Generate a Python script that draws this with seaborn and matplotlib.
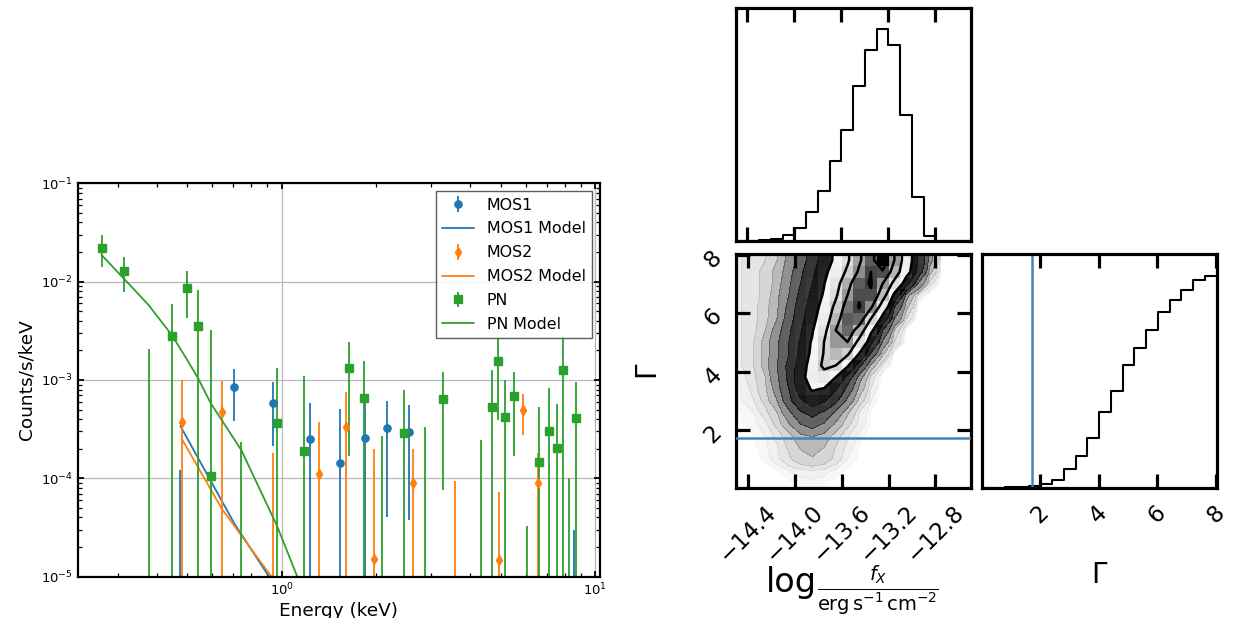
import numpy as np
import pandas as pd
import matplotlib
matplotlib.use("Agg")
import matplotlib.pyplot as plt
import seaborn as sns
from matplotlib.colors import LinearSegmentedColormap

sns.set_style("ticks", rc={"axes.edgecolor": "black", "xtick.color": "black",
                           "ytick.color": "black", "text.color": "black",
                           "axes.labelcolor": "black"})
plt.rcParams["font.family"] = ["DejaVu Sans"]
plt.rcParams["mathtext.fontset"] = "dejavusans"

# ---------------- spectrum data ----------------
pn_energy = [0.266, 0.313, 0.376, 0.446, 0.500, 0.541, 0.594, 0.743, 0.964, 1.175,
             1.640, 1.827, 2.095, 2.452, 2.867, 3.266, 4.317, 4.691, 4.902, 5.160,
             5.513, 6.053, 6.639, 7.114, 7.562, 7.904, 8.243, 8.676]
pn_rate = [0.0220, 0.0128, 0.0, 0.00278, 0.00855, 0.00353, 1.06e-4, 0.0, 3.62e-4, 1.89e-4,
           1.31e-3, 6.59e-4, 0.0, 2.86e-4, 0.0, 6.35e-4, 0.0, 5.30e-4, 1.545e-3, 4.23e-4,
           6.81e-4, 0.0, 1.45e-4, 3.00e-4, 2.04e-4, 1.27e-3, 0.0, 4.09e-4]
pn_err = [0.0078, 0.0049, 0.00205, 0.00309, 0.00428, 0.00469, 0.00311, 2.35e-4, 9.5e-4, 9.15e-4,
          1.14e-3, 8.86e-4, 2.70e-4, 5.02e-4, 3.32e-4, 5.59e-4, 2.45e-4, 7.23e-4, 1.15e-3, 5.74e-4,
          5.13e-4, 3.3e-5, 3.81e-4, 5.34e-4, 3.61e-4, 1.6e-3, 1.02e-4, 5.43e-4]

mos1_energy = [0.475, 0.706, 0.940, 1.231, 1.535, 1.840, 2.173, 2.543, 8.589]
mos1_rate = [0.0, 8.41e-4, 5.82e-4, 2.52e-4, 1.42e-4, 2.55e-4, 3.27e-4, 2.97e-4, 0.0]
mos1_err = [1.21e-4, 4.6e-4, 3.7e-4, 3.26e-4, 3.67e-4, 3.7e-4, 2.87e-4, 2.59e-4, 2.97e-5]

mos2_energy = [0.481, 0.643, 0.936, 1.318, 1.601, 1.966, 2.625, 3.565, 4.927, 5.903, 6.564]
mos2_rate = [3.73e-4, 4.75e-4, 0.0, 1.12e-4, 3.34e-4, 1.53e-5, 8.87e-5, 0.0, 1.47e-5, 4.98e-4, 9.0e-5]
mos2_err = [6.17e-4, 4.93e-4, 1.80e-4, 2.59e-4, 4.25e-4, 1.82e-4, 1.12e-4, 9.35e-5, 5.83e-5, 2.21e-4, 9.3e-5]

pn_model_energy = [0.266, 0.313, 0.376, 0.446, 0.500, 0.541, 0.594, 0.743, 0.964, 1.175]
pn_model = [0.0187, 0.0108, 0.00578, 0.00286, 0.00159, 0.00104, 5.78e-4, 1.94e-4, 3.34e-5, 6.9e-6]
mos1_model_energy = [0.475, 0.706, 0.940]
mos1_model = [3.40e-4, 3.47e-5, 8.6e-6]
mos2_model_energy = [0.481, 0.643, 0.936]
mos2_model = [2.49e-4, 4.94e-5, 9.6e-6]

# ---------------- posterior (corner) data ----------------
flux_edges = [round(-14.5 + 0.1 * i, 2) for i in range(21)]
flux_counts = [0, 0.3, 2, 4, 17, 39, 86, 147, 236, 329, 460, 565, 627, 582, 372, 130, 14, 0, 0, 0]
gamma_edges = [round(0.02 + 0.4 * i, 2) for i in range(21)]
gamma_counts = [0, 0.5, 4, 4, 7, 14, 26, 58, 97, 149, 227, 290, 368, 420, 473, 525, 563, 593, 623, 635]
gamma_true = 1.73

density_rows = [
    [0, 0.01, 0.01, 0.02, 0.04, 0.06, 0.07, 0.05, 0.03, 0.01],
    [0, 0.02, 0.03, 0.05, 0.1, 0.15, 0.18, 0.14, 0.08, 0.04, 0.01],
    [0.02, 0.03, 0.06, 0.15, 0.35, 0.6, 0.75, 0.6, 0.3, 0.1, 0.04],
    [0.02, 0.04, 0.08, 0.18, 0.45, 0.85, 1.0, 0.8, 0.38, 0.15, 0.05],
    [0.03, 0.05, 0.1, 0.25, 0.6, 1.3, 1.6, 1.2, 0.55, 0.22, 0.08, 0.02],
    [0.05, 0.08, 0.15, 0.5, 1.4, 3, 4, 2.8, 1.3, 0.5, 0.15, 0.05],
    [0.05, 0.1, 0.3, 0.8, 2.5, 5.5, 7.5, 5.5, 2.6, 0.9, 0.2, 0.05],
    [0.1, 0.2, 0.5, 1.5, 4.5, 11, 17, 13, 7, 2.5, 0.6, 0.1],
    [0.1, 0.25, 0.7, 2, 6, 16, 28, 25, 13, 4.5, 1.2, 0.2],
    [0.15, 0.3, 0.8, 2.5, 7, 18, 38, 45, 26, 9, 2, 0.3],
    [0.2, 0.4, 1, 3, 7, 16, 35, 68, 60, 28, 7, 1.2, 0.2],
    [0.2, 0.4, 1, 2.5, 6, 14, 30, 62, 78, 65, 25, 5, 0.9],
    [0.2, 0.4, 1, 2.5, 6, 13, 28, 60, 95, 95, 50, 14, 2.5, 0.4],
    [0.2, 0.3, 0.8, 2, 5, 11, 24, 50, 95, 115, 80, 30, 6, 0.7],
    [0.2, 0.3, 0.6, 1.5, 4, 9, 19, 40, 80, 120, 115, 60, 18, 3, 0.4],
    [0.2, 0.3, 0.6, 1.3, 3.5, 8, 16, 34, 68, 110, 130, 100, 42, 6, 1],
    [0.2, 0.3, 0.5, 1.2, 3, 7, 14, 28, 55, 95, 125, 125, 75, 20, 2, 0.2],
    [0.2, 0.3, 0.5, 1, 2.5, 6, 12, 25, 47, 84, 120, 130, 95, 50, 15, 3, 0.3],
    [0.2, 0.3, 0.5, 1, 2, 5, 10, 20, 38, 66, 100, 128, 125, 80, 35, 9, 1],
    [0.2, 0.3, 0.4, 0.8, 1.8, 4, 8, 16, 30, 55, 90, 120, 150, 95, 40, 12, 2],
]

# ---------------- figure ----------------
W, Hpx = 1233, 618
fig = plt.figure(figsize=(W / 100, Hpx / 100), dpi=100)

def rect(x0, y0, x1, y1):
    return [x0 / W, 1 - y1 / Hpx, (x1 - x0) / W, (y1 - y0) / Hpx]

# ---- left: spectrum ----
ax = fig.add_axes(rect(77.7, 183.3, 600, 576.7))
ax.set_xscale("log")
ax.set_yscale("log")
colors = {"MOS1": "#1f77b4", "MOS2": "#ff7f0e", "PN": "#2ca02c"}
series = [
    ("MOS1", mos1_energy, mos1_rate, mos1_err, "o", mos1_model_energy, mos1_model),
    ("MOS2", mos2_energy, mos2_rate, mos2_err, "d", mos2_model_energy, mos2_model),
    ("PN", pn_energy, pn_rate, pn_err, "s", pn_model_energy, pn_model),
]
handles, labels = [], []
for name, e, r, er, mk, me, mv in series:
    c = colors[name]
    cont = ax.errorbar(e, r, yerr=er, fmt=mk, color=c, ms=5.2, elinewidth=1.3,
                       capsize=0, label=name)
    mdf = pd.DataFrame({"E": me, "rate": mv})
    sns.lineplot(data=mdf, x="E", y="rate", ax=ax, color=c, lw=1.3, legend=False, sort=False)
    ln = ax.lines[-1]
    handles += [cont, ln]
    labels += [name, name + " Model"]

ax.set_xlim(0.2233, 10.37)
ax.set_ylim(1e-5, 1e-1)
ax.grid(True, which="major", color="#b8b8b8", lw=0.9)
ax.set_axisbelow(True)
ax.tick_params(which="both", direction="in", top=True, right=True)
ax.tick_params(which="major", length=4.5, width=1.3, labelsize=9.5)
ax.tick_params(which="minor", length=2.8, width=0.9)
for s in ax.spines.values():
    s.set_linewidth(1.6)
ax.set_xlabel("Energy (keV)", fontsize=13.3, labelpad=3)
ax.set_ylabel("Counts/s/keV", fontsize=13.3)
leg = ax.legend(handles, labels, loc="upper right", fontsize=11.4, fancybox=False,
                edgecolor="0.25", framealpha=0.85, labelspacing=0.56)
leg.get_frame().set_linewidth(1.0)

# ---- right: corner plot ----
ax_top = fig.add_axes(rect(735.7, 8.3, 970.7, 240.7))
ax_2d = fig.add_axes(rect(736.0, 254.3, 970.7, 488.3))
ax_g = fig.add_axes(rect(981.7, 254.3, 1216.7, 488.3))

fe = np.array(flux_edges)
ge = np.array(gamma_edges)
fc = 0.5 * (fe[1:] + fe[:-1])
gc = 0.5 * (ge[1:] + ge[:-1])

df_flux = pd.DataFrame({"flux": fc, "n": flux_counts})
df_gam = pd.DataFrame({"gamma": gc, "n": gamma_counts})

sns.histplot(data=df_flux, x="flux", weights="n", bins=flux_edges, element="step",
             fill=False, color="black", lw=1.5, ax=ax_top)
ax_top.set_xlim(fe[0], fe[-1])
ax_top.set_ylim(0, 1.1 * max(flux_counts))

sns.histplot(data=df_gam, x="gamma", weights="n", bins=gamma_edges, element="step",
             fill=False, color="black", lw=1.5, ax=ax_g)
ax_g.set_xlim(ge[0], ge[-1])
ax_g.set_ylim(0, 1.1 * max(gamma_counts))
ax_g.axvline(gamma_true, color="#4682b4", lw=1.8)

# 2D density
Hm = np.zeros((20, 20))
for i, row in enumerate(density_rows):
    Hm[i, :len(row)] = row

# corner-style levels
lev = 1.0 - np.exp(-0.5 * np.array([0.5, 1.0, 1.5, 2.0]) ** 2)
Hflat = np.sort(Hm.flatten())[::-1]
sm = np.cumsum(Hflat)
sm /= sm[-1]
V = np.array([Hflat[sm <= v0][-1] if np.any(sm <= v0) else Hflat[0] for v0 in lev])
V.sort()

H2 = np.zeros((24, 24)) + Hm.min()
H2[2:-2, 2:-2] = Hm
H2[2:-2, 1] = Hm[:, 0]
H2[2:-2, -2] = Hm[:, -1]
H2[1, 2:-2] = Hm[0]
H2[-2, 2:-2] = Hm[-1]
H2[1, 1] = Hm[0, 0]
H2[1, -2] = Hm[0, -1]
H2[-2, 1] = Hm[-1, 0]
H2[-2, -2] = Hm[-1, -1]
dx = fc[1] - fc[0]
dy = gc[1] - gc[0]
X2 = np.concatenate([fc[0] + np.array([-2, -1]) * dx, fc, fc[-1] + np.array([1, 2]) * dx])
Y2 = np.concatenate([gc[0] + np.array([-2, -1]) * dy, gc, gc[-1] + np.array([1, 2]) * dy])

cloud_levels = [0.05, 0.1, 0.2, 0.4, 0.8, 1.5, 3, 6, 12, 1e5]
cloud_alpha = [0.03, 0.06, 0.1, 0.16, 0.27, 0.43, 0.63, 0.83, 0.97]
ax_2d.contourf(X2, Y2, H2, levels=cloud_levels,
               colors=[(0, 0, 0, a) for a in cloud_alpha], zorder=0)
ax_2d.contourf(X2, Y2, H2, [V.min(), Hm.max() * 1.001], colors=["white"], zorder=1)

dens_cmap = LinearSegmentedColormap.from_list("dens", [(1, 1, 1, 0), (0, 0, 0, 1)])
XX, YY = np.meshgrid(fc, gc)
df2 = pd.DataFrame({"flux": XX.ravel(), "gamma": YY.ravel(), "n": Hm.ravel()})
sns.histplot(data=df2, x="flux", y="gamma", weights="n", bins=[flux_edges, gamma_edges],
             cmap=dens_cmap, vmin=0, vmax=Hm.max(), ax=ax_2d, zorder=2)
ax_2d.contour(X2, Y2, H2, V, colors="black", linewidths=1.8, zorder=3)
ax_2d.axhline(gamma_true, color="#4682b4", lw=1.8, zorder=4)
ax_2d.set_xlim(fe[0], fe[-1])
ax_2d.set_ylim(ge[0], ge[-1])

# styling of corner axes
for a in (ax_top, ax_2d, ax_g):
    for s in a.spines.values():
        s.set_linewidth(2.3)
    a.tick_params(direction="in", length=10, width=2.3, top=True, bottom=True,
                  labelsize=16.5, pad=9)
    a.set_xlabel("")
    a.set_ylabel("")

xt = [-14.4, -14.0, -13.6, -13.2, -12.8]
ax_top.set_xticks(xt)
ax_top.set_yticks([])
ax_top.tick_params(labelbottom=False)

ax_2d.set_xticks(xt)
ax_2d.set_yticks([2, 4, 6, 8])
ax_2d.tick_params(left=True, right=True)
ax_2d.tick_params(axis="y", pad=7)
plt.setp(ax_2d.get_xticklabels(), rotation=45)
plt.setp(ax_2d.get_yticklabels(), rotation=45)

ax_g.set_xticks([2, 4, 6, 8])
ax_g.set_yticks([])
plt.setp(ax_g.get_xticklabels(), rotation=45)

ax_2d.set_xlabel(r"$\frac{f_X}{\mathrm{erg\,s^{-1}\,cm^{-2}}}$", fontsize=20)
ax_2d.xaxis.set_label_coords(0.603, -0.32)
ax_2d.text(0.2375, -0.442, "log", transform=ax_2d.transAxes, fontsize=24,
           ha="center", va="baseline")
ax_2d.set_ylabel(r"$\Gamma$", fontsize=20)
ax_2d.yaxis.set_label_coords(-0.31, 0.5)
ax_g.set_xlabel(r"$\Gamma$", fontsize=20)
ax_g.xaxis.set_label_coords(0.5, -0.31)

fig.savefig("out.png", dpi=100)
